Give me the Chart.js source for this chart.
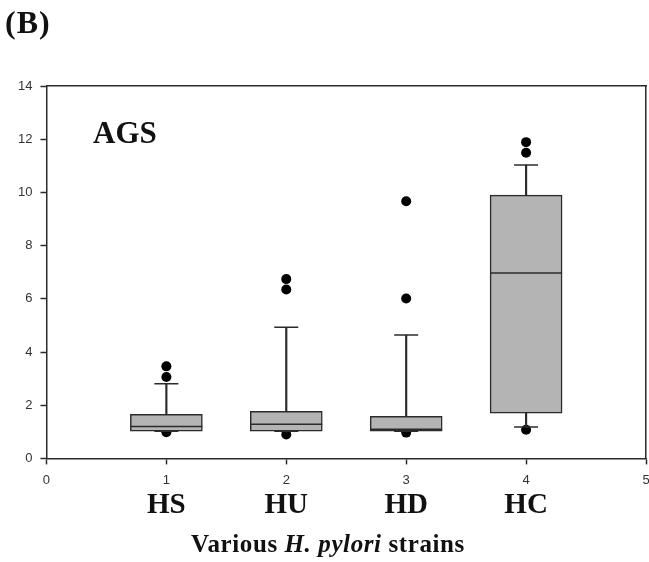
<!DOCTYPE html>
<html>
<head>
<meta charset="utf-8">
<script src="https://cdn.jsdelivr.net/npm/chart.js@4.4.0/dist/chart.umd.min.js"></script>
<style>
  body { margin: 0; background: #fff; }
  #wrap { position: relative; width: 649px; height: 562px; overflow: hidden; }
  #chartBox { position: absolute; left: 0; top: 0; }
  .label { position: absolute; font-family: "Liberation Serif", "Times New Roman", serif; font-weight: bold; color: #111; line-height: 1; white-space: nowrap; }
</style>
</head>
<body>
<div id="wrap">
  <div id="chartBox"><canvas id="boxChart" width="660" height="562"></canvas></div>
  <div class="label" style="left:5px;top:6px;font-size:32px;letter-spacing:1px;">(B)</div>
  <div class="label" style="left:93px;top:117px;font-size:31px;">AGS</div>
  <div class="label" style="left:118px;top:531px;width:420px;text-align:center;font-size:25px;letter-spacing:0.6px;">Various <i>H. pylori</i> strains</div>
</div>
<script>
// box plot values
const strains = ["HS", "HU", "HD", "HC"];
const xPos = [1, 2, 3, 4];
const q1 = [1.02, 1.02, 1.02, 1.7];
const median = [1.2, 1.28, 1.1, 6.97];
const q3 = [1.66, 1.77, 1.58, 9.9];
const whiskerLow = [1.02, 1.02, 1.02, 1.18];
const whiskerHigh = [2.81, 4.93, 4.64, 11.03];
const outliers = [
  [0.98, 3.06, 3.46],
  [0.9, 6.35, 6.74],
  [0.97, 6.01, 9.67],
  [1.08, 11.49, 11.89],
];
const xTicks = [0, 1, 2, 3, 4, 5];
const yTicks = [0, 2, 4, 6, 8, 10, 12, 14];

const lineColor = "#2b2b2b";
const boxColor = "#b4b4b4";
const tickFont = { family: "Liberation Sans, Arial, sans-serif", size: 13 };

const capPoints = [];
xPos.forEach((x, i) => {
  capPoints.push({ x: x, y: whiskerHigh[i] });
  capPoints.push({ x: x, y: whiskerLow[i] });
});
const outlierPoints = [];
xPos.forEach((x, i) => {
  outliers[i].forEach((v) => outlierPoints.push({ x: x, y: v }));
});

// strain names under the numeric ticks
const strainLabels = {
  id: "strainLabels",
  afterDraw(chart) {
    const { ctx, chartArea } = chart;
    const xScale = chart.scales.x;
    ctx.save();
    ctx.font = "bold 29px 'Liberation Serif', 'Times New Roman', serif";
    ctx.fillStyle = "#111";
    ctx.textAlign = "center";
    ctx.textBaseline = "alphabetic";
    strains.forEach((name, i) => {
      ctx.fillText(name, xScale.getPixelForValue(xPos[i]), chartArea.bottom + 55);
    });
    ctx.restore();
  },
};

const data = {
  datasets: [
    {
      type: "scatter",
      label: "median",
      data: xPos.map((x, i) => ({ x: x, y: median[i] })),
      pointStyle: "line",
      pointRadius: 36,
      pointHoverRadius: 36,
      borderColor: lineColor,
      borderWidth: 1.5,
      order: 0,
    },
    {
      type: "scatter",
      label: "caps",
      data: capPoints,
      pointStyle: "line",
      pointRadius: 12,
      pointHoverRadius: 12,
      borderColor: lineColor,
      borderWidth: 1.5,
      order: 1,
    },
    {
      type: "bar",
      label: "box",
      data: xPos.map((x, i) => ({ x: x, y: [q1[i], q3[i]] })),
      backgroundColor: boxColor,
      borderColor: lineColor,
      borderWidth: 1.5,
      borderSkipped: false,
      barThickness: 72,
      grouped: false,
      order: 2,
    },
    {
      type: "bar",
      label: "upper whisker",
      data: xPos.map((x, i) => ({ x: x, y: [q3[i], whiskerHigh[i]] })),
      backgroundColor: lineColor,
      borderWidth: 0,
      barThickness: 1.5,
      grouped: false,
      order: 3,
    },
    {
      type: "bar",
      label: "lower whisker",
      data: xPos.map((x, i) => ({ x: x, y: [whiskerLow[i], q1[i]] })),
      backgroundColor: lineColor,
      borderWidth: 0,
      barThickness: 1.5,
      grouped: false,
      order: 3,
    },
    {
      type: "scatter",
      label: "outliers",
      data: outlierPoints,
      pointRadius: 5,
      pointHoverRadius: 5,
      backgroundColor: "#000",
      borderWidth: 0,
      order: 4,
    },
  ],
};

// top and right lines that close the frame
const frameAxis = (pos) => ({
  type: "linear",
  position: pos,
  min: 0,
  max: pos === "top" ? 5 : 14,
  offset: false,
  ticks: { display: false },
  grid: { display: false, drawTicks: false, offset: false },
  border: { display: true, color: lineColor, width: 1.5 },
});

const config = {
  type: "bar",
  data: data,
  plugins: [strainLabels],
  options: {
    responsive: false,
    animation: false,
    events: [],
    layout: { autoPadding: false, padding: { left: 10, top: 86, right: 14, bottom: 66 } },
    plugins: { legend: { display: false }, tooltip: { enabled: false } },
    scales: {
      x: {
        type: "linear",
        position: "bottom",
        min: 0,
        max: 5,
        offset: false,
        afterBuildTicks: (scale) => {
          scale.ticks = xTicks.map((v) => ({ value: v }));
        },
        ticks: { font: tickFont, color: "#333", padding: 8, maxRotation: 0, autoSkip: false },
        grid: { drawOnChartArea: false, offset: false, tickLength: 6, tickColor: lineColor, tickWidth: 1.5 },
        border: { color: lineColor, width: 1.5 },
      },
      xTop: frameAxis("top"),
      y: {
        type: "linear",
        position: "left",
        min: 0,
        max: 14,
        afterBuildTicks: (scale) => {
          scale.ticks = yTicks.map((v) => ({ value: v }));
        },
        ticks: { font: tickFont, color: "#333", padding: 8 },
        grid: { drawOnChartArea: false, tickLength: 6, tickColor: lineColor, tickWidth: 1.5 },
        border: { color: lineColor, width: 1.5 },
      },
      yRight: frameAxis("right"),
    },
  },
};

const ctx = document.getElementById("boxChart");
const boxChart = new Chart(ctx, config);
</script>
</body>
</html>
